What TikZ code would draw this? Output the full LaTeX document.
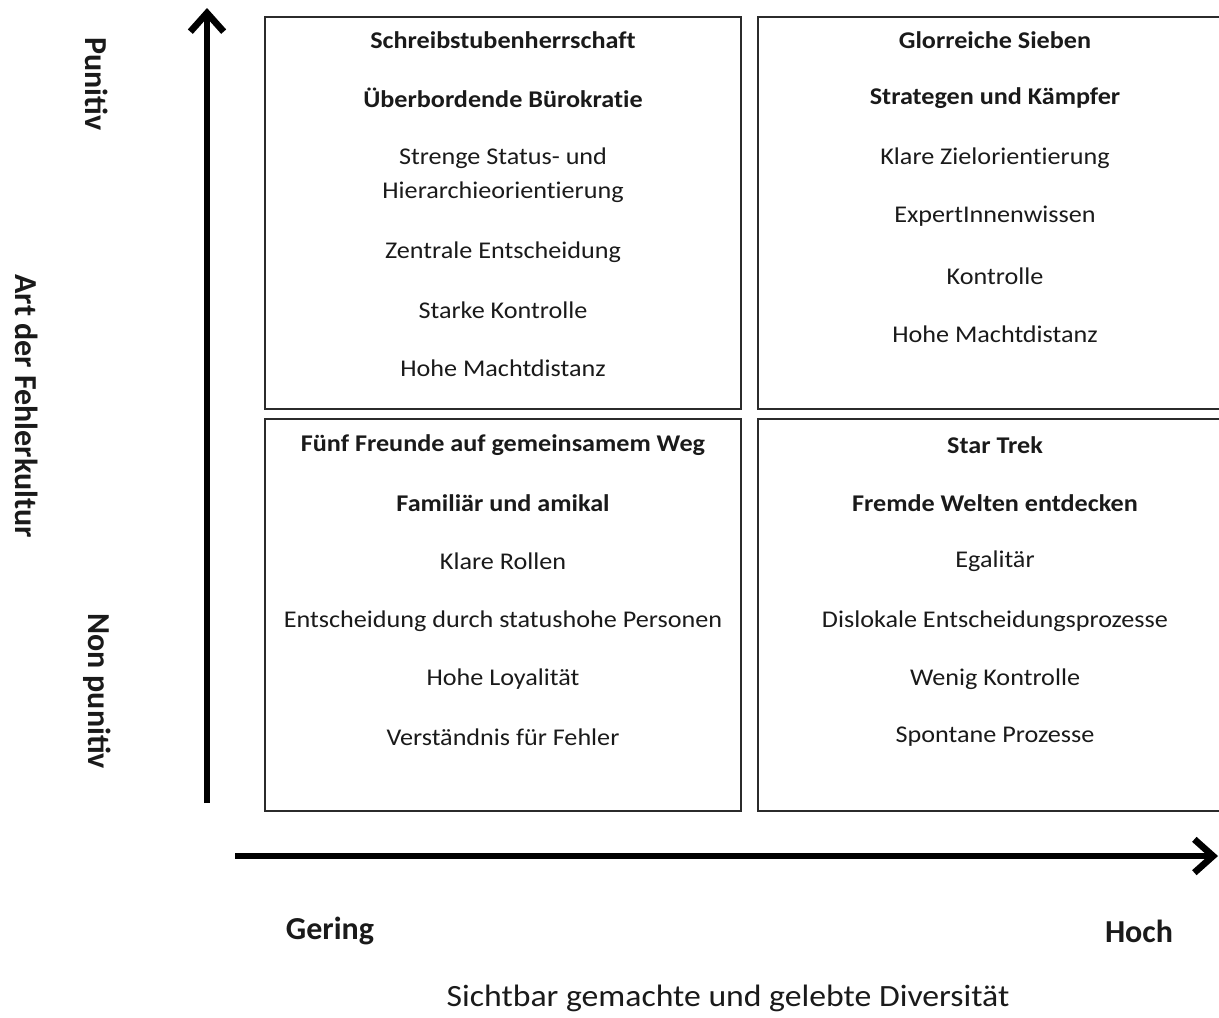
\documentclass[tikz,border=0pt]{standalone}
\usepackage{fontspec}
\setmainfont{Carlito}
\newfontfamily\boxfont[FakeStretch=1.09, Ligatures=NoCommon]{Carlito}
\usetikzlibrary{positioning,arrows.meta}
\definecolor{ink}{HTML}{1A1A1A}
\definecolor{frame}{HTML}{2B2B2B}

\begin{document}
\begin{tikzpicture}[x=0.75pt,y=-0.75pt,
  cell/.style={draw=frame, line width=1.5pt},
  item/.style={font=\boxfont\fontsize{18}{20}\selectfont, text=ink, inner sep=0pt},
  head/.style={item, font=\boxfont\fontsize{18}{20}\selectfont\bfseries},
  axislabel/.style={font=\fontsize{24}{28}\selectfont\bfseries, text=ink, inner sep=0pt},
  axis/.style={line width=5pt, -{Straight Barb[length=14pt, width=25pt]}}]
\useasboundingbox (0,0) rectangle (1219,1017);

% quadrants
\draw[cell] (265,17) rectangle (741,409);
\draw[cell] (758,17) rectangle (1224,409);
\draw[cell] (265,419) rectangle (741,811);
\draw[cell] (758,419) rectangle (1224,811);

% punitiv, geringe Diversitaet
\node[head] (tlhead) at (503,40) {Schreibstubenherrschaft};
\node[head] (tlsub) at (503,98) {Überbordende Bürokratie};
\node[item] (tl1) at (503,158) {Strenge Status- und};
\node[item] (tl2) at (503,192) {Hierarchieorientierung};
\foreach \txt/\y [count=\i from 3] in {Zentrale Entscheidung/252, Starke Kontrolle/310, Hohe Machtdistanz/368}
  \node[item] (tl\i) at (503,\y) {\txt};

% punitiv, hohe Diversitaet
\node[head] (trhead) at (995,40) {Glorreiche Sieben};
\node[head] (trsub) at (995,98) {Strategen und Kämpfer};
\foreach \txt/\y [count=\i] in {Klare Zielorientierung/158, ExpertInnenwissen/216, Kontrolle/276, Hohe Machtdistanz/334}
  \node[item] (tr\i) at (995,\y) {\txt};

% non punitiv, geringe Diversitaet
\node[head] (blhead) at (503,445) {Fünf Freunde auf gemeinsamem Weg};
\node[head] (blsub) at (503,503) {Familiär und amikal};
\foreach \txt/\y [count=\i] in {Klare Rollen/561, Entscheidung durch statushohe Personen/621, Hohe Loyalität/679, Verständnis für Fehler/737}
  \node[item] (bl\i) at (503,\y) {\txt};

% non punitiv, hohe Diversitaet
\node[head] (brhead) at (995,445) {Star Trek};
\node[head] (brsub) at (995,503) {Fremde Welten entdecken};
\foreach \txt/\y [count=\i] in {Egalitär/561, Dislokale Entscheidungsprozesse/621, Wenig Kontrolle/679, Spontane Prozesse/737}
  \node[item] (br\i) at (995,\y) {\txt};

% Achsen
\coordinate (yfoot) at (207,803);
\coordinate (ytip) at (207,8);
\coordinate (xfoot) at (235,856);
\coordinate (xtip) at (1218,856);
\draw[axis] (yfoot) -- (ytip);
\draw[axis] (xfoot) -- (xtip);

\node[axislabel, rotate=-90] (punitiv) at (97,84) {Punitiv};
\node[axislabel, rotate=-90] (nonpunitiv) at (97,691) {Non punitiv};
\node[axislabel, rotate=-90] (fehler) at (27,406) {Art der Fehlerkultur};
\node[axislabel] (gering) at (330,931) {Gering};
\node[axislabel] (hoch) at (1139,931) {Hoch};
\node[axislabel, font=\boxfont\fontsize{23.2}{28}\selectfont] (divers) at (728,998) {Sichtbar gemachte und gelebte Diversität};
\end{tikzpicture}
\end{document}
